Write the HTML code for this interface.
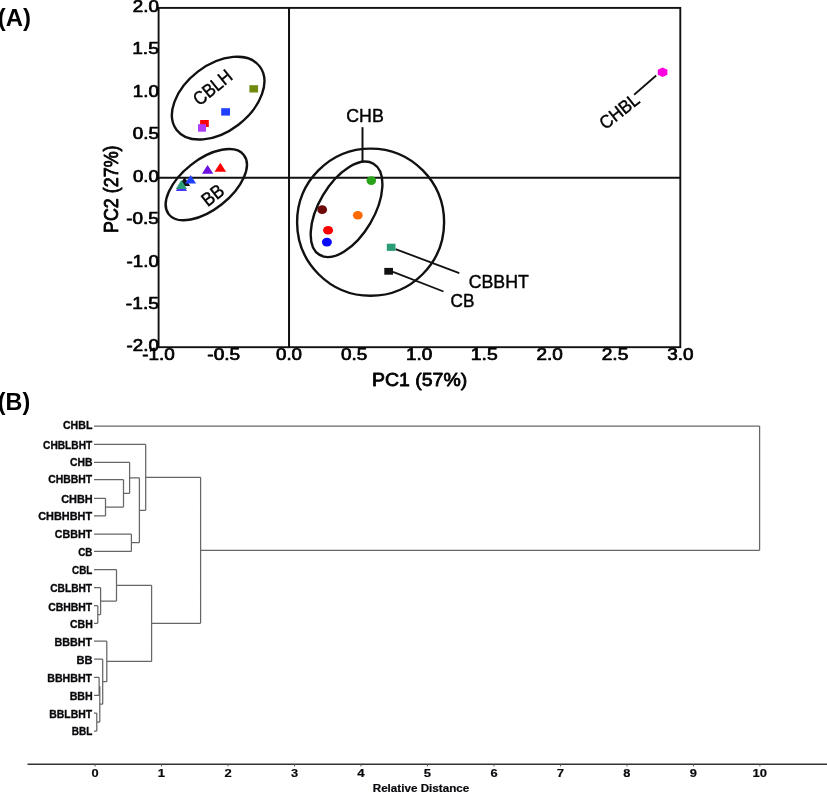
<!DOCTYPE html>
<html><head><meta charset="utf-8"><title>PCA and dendrogram</title>
<style>
html,body{margin:0;padding:0;background:#fff;overflow:hidden;}
svg{display:block;}
text{font-family:"Liberation Sans",Arial,sans-serif;fill:#000;}
.dl{fill:#08080c;}
</style></head>
<body><svg width="827" height="793" viewBox="0 0 827 793">
<rect x="0" y="0" width="827" height="793" fill="#fff"/>
<text font-weight="bold" font-size="24.34" transform="translate(-2.20,26.45) scale(0.9827,1)">(A)</text>
<rect x="158.6" y="7.9" width="521.70" height="339.30" fill="none" stroke="#111" stroke-width="1.9"/>
<line x1="289.02" y1="7.9" x2="289.02" y2="347.2" stroke="#111" stroke-width="2"/>
<line x1="158.6" y1="177.8" x2="680.3" y2="177.8" stroke="#111" stroke-width="2"/>
<text font-weight="normal" font-size="15.76" transform="translate(132.72,12.07) scale(1.1918,1)" stroke="#000" stroke-width="0.75" vector-effect="non-scaling-stroke" stroke-linejoin="round">2.0</text>
<text font-weight="normal" font-size="15.99" transform="translate(132.15,54.48) scale(1.2037,1)" stroke="#000" stroke-width="0.75" vector-effect="non-scaling-stroke" stroke-linejoin="round">1.5</text>
<text font-weight="normal" font-size="15.76" transform="translate(132.78,96.89) scale(1.1890,1)" stroke="#000" stroke-width="0.75" vector-effect="non-scaling-stroke" stroke-linejoin="round">1.0</text>
<text font-weight="normal" font-size="15.76" transform="translate(132.77,139.30) scale(1.1920,1)" stroke="#000" stroke-width="0.75" vector-effect="non-scaling-stroke" stroke-linejoin="round">0.5</text>
<text font-weight="normal" font-size="15.76" transform="translate(133.01,181.72) scale(1.1781,1)" stroke="#000" stroke-width="0.75" vector-effect="non-scaling-stroke" stroke-linejoin="round">0.0</text>
<text font-weight="normal" font-size="15.76" transform="translate(126.29,224.13) scale(1.2006,1)" stroke="#000" stroke-width="0.75" vector-effect="non-scaling-stroke" stroke-linejoin="round">-0.5</text>
<text font-weight="normal" font-size="15.76" transform="translate(126.54,266.54) scale(1.1895,1)" stroke="#000" stroke-width="0.75" vector-effect="non-scaling-stroke" stroke-linejoin="round">-1.0</text>
<text font-weight="normal" font-size="15.99" transform="translate(125.82,308.95) scale(1.2010,1)" stroke="#000" stroke-width="0.75" vector-effect="non-scaling-stroke" stroke-linejoin="round">-1.5</text>
<text font-weight="normal" font-size="15.76" transform="translate(126.54,351.37) scale(1.1895,1)" stroke="#000" stroke-width="0.75" vector-effect="non-scaling-stroke" stroke-linejoin="round">-2.0</text>
<text font-weight="normal" font-size="15.90" transform="translate(142.24,359.57) scale(1.1891,1)" stroke="#000" stroke-width="0.75" vector-effect="non-scaling-stroke" stroke-linejoin="round">-1.0</text>
<text font-weight="normal" font-size="15.90" transform="translate(207.33,359.57) scale(1.2002,1)" stroke="#000" stroke-width="0.75" vector-effect="non-scaling-stroke" stroke-linejoin="round">-0.5</text>
<text font-weight="normal" font-size="15.90" transform="translate(275.99,359.57) scale(1.1777,1)" stroke="#000" stroke-width="0.75" vector-effect="non-scaling-stroke" stroke-linejoin="round">0.0</text>
<text font-weight="normal" font-size="15.90" transform="translate(341.07,359.57) scale(1.1916,1)" stroke="#000" stroke-width="0.75" vector-effect="non-scaling-stroke" stroke-linejoin="round">0.5</text>
<text font-weight="normal" font-size="15.90" transform="translate(405.96,359.57) scale(1.1886,1)" stroke="#000" stroke-width="0.75" vector-effect="non-scaling-stroke" stroke-linejoin="round">1.0</text>
<text font-weight="normal" font-size="16.13" transform="translate(470.83,359.56) scale(1.2034,1)" stroke="#000" stroke-width="0.75" vector-effect="non-scaling-stroke" stroke-linejoin="round">1.5</text>
<text font-weight="normal" font-size="15.90" transform="translate(536.59,359.57) scale(1.1915,1)" stroke="#000" stroke-width="0.75" vector-effect="non-scaling-stroke" stroke-linejoin="round">2.0</text>
<text font-weight="normal" font-size="15.90" transform="translate(601.67,359.57) scale(1.2054,1)" stroke="#000" stroke-width="0.75" vector-effect="non-scaling-stroke" stroke-linejoin="round">2.5</text>
<text font-weight="normal" font-size="15.90" transform="translate(667.18,359.57) scale(1.1874,1)" stroke="#000" stroke-width="0.75" vector-effect="non-scaling-stroke" stroke-linejoin="round">3.0</text>
<text font-weight="normal" font-size="17.48" transform="translate(371.99,386.27) scale(1.1140,1)" stroke="#000" stroke-width="0.8" vector-effect="non-scaling-stroke" stroke-linejoin="round">PC1 (57%)</text>
<text font-weight="normal" font-size="20.27" transform="rotate(-90) translate(-232.98,118.19) scale(0.8828,1)" stroke="#000" stroke-width="0.8" vector-effect="non-scaling-stroke" stroke-linejoin="round">PC2 (27%)</text>
<ellipse cx="0" cy="0" rx="52.28" ry="33.41" transform="translate(218.16,98.15) rotate(-37.43)" fill="none" stroke="#111" stroke-width="2.4"/>
<ellipse cx="0" cy="0" rx="47.84" ry="25.0" transform="translate(206.3,184.66) rotate(-38.4)" fill="none" stroke="#111" stroke-width="2.4"/>
<ellipse cx="370.6" cy="222.2" rx="73.5" ry="73.6" fill="none" stroke="#111" stroke-width="2.4"/>
<ellipse cx="0" cy="0" rx="52.94" ry="27.5" transform="translate(346.55,209.3) rotate(-59.44)" fill="none" stroke="#111" stroke-width="2.4"/>
<line x1="362.5" y1="127.2" x2="362.5" y2="162" stroke="#111" stroke-width="2"/>
<line x1="395.5" y1="249.1" x2="459.3" y2="273.1" stroke="#111" stroke-width="1.8"/>
<line x1="393" y1="271.8" x2="443.5" y2="291.5" stroke="#111" stroke-width="1.8"/>
<line x1="656.2" y1="75.5" x2="634.1" y2="94.7" stroke="#111" stroke-width="1.8"/>
<text font-weight="normal" font-size="18.80" transform="translate(346.21,122.01) scale(0.9475,1)" stroke="#000" stroke-width="0.4" vector-effect="non-scaling-stroke" stroke-linejoin="round">CHB</text>
<text font-weight="normal" font-size="18.80" transform="translate(468.71,287.81) scale(0.9436,1)" stroke="#000" stroke-width="0.4" vector-effect="non-scaling-stroke" stroke-linejoin="round">CBBHT</text>
<text font-weight="normal" font-size="18.37" transform="translate(450.54,307.02) scale(0.9384,1)" stroke="#000" stroke-width="0.4" vector-effect="non-scaling-stroke" stroke-linejoin="round">CB</text>
<text font-weight="normal" font-size="18.94" transform="translate(216.5,92.7) rotate(-39) translate(-21.88,-0.09) scale(0.8769,1)" stroke="#000" stroke-width="0.4" vector-effect="non-scaling-stroke" stroke-linejoin="round">CBLH</text>
<text font-weight="normal" font-size="19.05" transform="translate(216.9,200.0) rotate(-38.3) translate(-11.72,0.10) scale(0.9009,1)" stroke="#000" stroke-width="0.4" vector-effect="non-scaling-stroke" stroke-linejoin="round">BB</text>
<text font-weight="normal" font-size="18.37" transform="translate(623.4,116.1) rotate(-38.7) translate(-22.75,-0.08) scale(0.9221,1)" stroke="#000" stroke-width="0.4" vector-effect="non-scaling-stroke" stroke-linejoin="round">CHBL</text>
<rect x="249.4" y="85.2" width="8.70" height="7.30" fill="#6f8a0c"/>
<rect x="221.2" y="108.2" width="8.80" height="7.40" fill="#2040ff"/>
<rect x="200.1" y="120.0" width="8.70" height="7.00" fill="#ff0000"/>
<rect x="198.0" y="124.2" width="8.00" height="7.50" fill="#b03cf8"/>
<polygon points="184.6,177.0 190.2,186.0 179.0,186.0" fill="#111"/>
<polygon points="181.4,182.0 187.0,190.9 175.8,190.9" fill="#4d33ff"/>
<polygon points="181.4,180.0 187.0,188.9 175.8,188.9" fill="#2a9d78"/>
<polygon points="190.6,175.1 196.1,183.6 185.1,183.6" fill="#2040ff"/>
<polygon points="207.6,165.0 213.29999999999998,173.7 201.9,173.7" fill="#6a0fe0"/>
<polygon points="220.3,162.8 226.10000000000002,171.7 214.5,171.7" fill="#ff0000"/>
<ellipse cx="371.3" cy="180.6" rx="4.8" ry="4.3" fill="#28a31a"/>
<ellipse cx="322.2" cy="209.7" rx="4.9" ry="4.4" fill="#6e0808"/>
<ellipse cx="357.8" cy="215.25" rx="4.9" ry="4.35" fill="#ff6a00"/>
<ellipse cx="328.1" cy="230.3" rx="5.0" ry="4.3" fill="#ff0000"/>
<ellipse cx="326.9" cy="242.1" rx="5.0" ry="4.35" fill="#0a0aff"/>
<rect x="386.8" y="243.7" width="8.70" height="7.20" fill="#2a9d78"/>
<rect x="384.3" y="267.9" width="8.70" height="6.80" fill="#111"/>
<polygon points="662.60,67.45 667.40,69.85 667.40,74.65 662.60,77.05 657.80,74.65 657.80,69.85" fill="#ff00e0"/>
<text font-weight="bold" font-size="24.34" transform="translate(-2.17,410.45) scale(0.9572,1)">(B)</text>
<text class="dl" font-weight="bold" font-size="10.86" transform="translate(62.94,428.83) scale(0.9758,1)" stroke="#08080c" stroke-width="0.32" vector-effect="non-scaling-stroke" stroke-linejoin="round">CHBL</text>
<text class="dl" font-weight="bold" font-size="10.86" transform="translate(43.05,448.53) scale(0.9377,1)" stroke="#08080c" stroke-width="0.32" vector-effect="non-scaling-stroke" stroke-linejoin="round">CHBLBHT</text>
<text class="dl" font-weight="bold" font-size="10.86" transform="translate(69.94,465.93) scale(0.9590,1)" stroke="#08080c" stroke-width="0.32" vector-effect="non-scaling-stroke" stroke-linejoin="round">CHB</text>
<text class="dl" font-weight="bold" font-size="10.43" transform="translate(48.14,483.04) scale(0.9996,1)" stroke="#08080c" stroke-width="0.32" vector-effect="non-scaling-stroke" stroke-linejoin="round">CHBBHT</text>
<text class="dl" font-weight="bold" font-size="11.00" transform="translate(61.22,502.63) scale(0.9929,1)" stroke="#08080c" stroke-width="0.32" vector-effect="non-scaling-stroke" stroke-linejoin="round">CHBH</text>
<text class="dl" font-weight="bold" font-size="10.86" transform="translate(38.22,519.73) scale(1.0051,1)" stroke="#08080c" stroke-width="0.32" vector-effect="non-scaling-stroke" stroke-linejoin="round">CHBHBHT</text>
<text class="dl" font-weight="bold" font-size="10.86" transform="translate(54.83,538.13) scale(0.9821,1)" stroke="#08080c" stroke-width="0.32" vector-effect="non-scaling-stroke" stroke-linejoin="round">CBBHT</text>
<text class="dl" font-weight="bold" font-size="10.57" transform="translate(78.27,555.53) scale(0.9306,1)" stroke="#08080c" stroke-width="0.32" vector-effect="non-scaling-stroke" stroke-linejoin="round">CB</text>
<text class="dl" font-weight="bold" font-size="10.43" transform="translate(72.07,573.74) scale(0.9456,1)" stroke="#08080c" stroke-width="0.32" vector-effect="non-scaling-stroke" stroke-linejoin="round">CBL</text>
<text class="dl" font-weight="bold" font-size="10.86" transform="translate(50.15,592.23) scale(0.9412,1)" stroke="#08080c" stroke-width="0.32" vector-effect="non-scaling-stroke" stroke-linejoin="round">CBLBHT</text>
<text class="dl" font-weight="bold" font-size="10.71" transform="translate(48.14,610.93) scale(0.9755,1)" stroke="#08080c" stroke-width="0.32" vector-effect="non-scaling-stroke" stroke-linejoin="round">CBHBHT</text>
<text class="dl" font-weight="bold" font-size="10.43" transform="translate(69.94,627.74) scale(1.0089,1)" stroke="#08080c" stroke-width="0.32" vector-effect="non-scaling-stroke" stroke-linejoin="round">CBH</text>
<text class="dl" font-weight="bold" font-size="11.03" transform="translate(54.53,645.84) scale(0.9747,1)" stroke="#08080c" stroke-width="0.32" vector-effect="non-scaling-stroke" stroke-linejoin="round">BBBHT</text>
<text class="dl" font-weight="bold" font-size="10.73" transform="translate(76.41,663.54) scale(1.0403,1)" stroke="#08080c" stroke-width="0.32" vector-effect="non-scaling-stroke" stroke-linejoin="round">BB</text>
<text class="dl" font-weight="bold" font-size="11.17" transform="translate(47.24,682.04) scale(0.9526,1)" stroke="#08080c" stroke-width="0.32" vector-effect="non-scaling-stroke" stroke-linejoin="round">BBHBHT</text>
<text class="dl" font-weight="bold" font-size="10.88" transform="translate(69.64,699.64) scale(0.9804,1)" stroke="#08080c" stroke-width="0.32" vector-effect="non-scaling-stroke" stroke-linejoin="round">BBH</text>
<text class="dl" font-weight="bold" font-size="11.03" transform="translate(49.26,717.54) scale(0.9465,1)" stroke="#08080c" stroke-width="0.32" vector-effect="non-scaling-stroke" stroke-linejoin="round">BBLBHT</text>
<text class="dl" font-weight="bold" font-size="10.88" transform="translate(71.78,735.04) scale(0.9194,1)" stroke="#08080c" stroke-width="0.32" vector-effect="non-scaling-stroke" stroke-linejoin="round">BBL</text>
<path d="M94.0,498.30H105.5 M94.0,515.90H105.5 M105.5,498.30V515.90 M105.5,507.10H123.5 M94.0,479.70H123.5 M123.5,479.70V507.10 M123.5,493.40H129.6 M94.0,462.30H129.6 M129.6,462.30V493.40 M94.0,534.00H131.4 M94.0,551.40H131.4 M131.4,534.00V551.40 M129.6,477.85H139.4 M131.4,542.70H139.4 M139.4,477.85V542.70 M139.4,510.28H145.7 M94.0,444.40H145.7 M145.7,444.40V510.28 M94.0,605.70H97.8 M94.0,623.30H97.8 M97.8,605.70V623.30 M97.8,614.50H100.6 M94.0,587.50H100.6 M100.6,587.50V614.50 M100.6,601.00H116.5 M94.0,569.50H116.5 M116.5,569.50V601.00 M94.0,713.10H96.8 M94.0,731.00H96.8 M96.8,713.10V731.00 M94.0,677.30H99.1 M94.0,695.30H99.1 M99.1,677.30V695.30 M96.8,722.05H99.8 M99.1,686.30H99.8 M99.8,686.30V722.05 M99.8,704.17H102.7 M94.0,659.20H102.7 M102.7,659.20V704.17 M102.7,681.69H106.8 M94.0,641.20H106.8 M106.8,641.20V681.69 M116.5,585.25H151.6 M106.8,661.44H151.6 M151.6,585.25V661.44 M145.7,477.34H200.6 M151.6,623.35H200.6 M200.6,477.34V623.35 M200.6,550.34H759.6 M94.0,426.10H759.6 M759.6,426.10V550.34" fill="none" stroke="#666" stroke-width="1.25"/>
<line x1="27.5" y1="764.2" x2="827" y2="764.2" stroke="#333" stroke-width="1.5"/>
<line x1="95.10" y1="764.2" x2="95.10" y2="766.4" stroke="#555" stroke-width="1"/>
<text class="dl" font-weight="bold" font-size="10.74" transform="translate(91.55,776.59) scale(1.1924,1)" stroke="#08080c" stroke-width="0.2" vector-effect="non-scaling-stroke" stroke-linejoin="round">0</text>
<line x1="161.58" y1="764.2" x2="161.58" y2="766.4" stroke="#555" stroke-width="1"/>
<text class="dl" font-weight="bold" font-size="11.05" transform="translate(157.69,776.70) scale(1.1927,1)" stroke="#08080c" stroke-width="0.2" vector-effect="non-scaling-stroke" stroke-linejoin="round">1</text>
<line x1="228.06" y1="764.2" x2="228.06" y2="766.4" stroke="#555" stroke-width="1"/>
<text class="dl" font-weight="bold" font-size="10.90" transform="translate(224.48,776.70) scale(1.1933,1)" stroke="#08080c" stroke-width="0.2" vector-effect="non-scaling-stroke" stroke-linejoin="round">2</text>
<line x1="294.54" y1="764.2" x2="294.54" y2="766.4" stroke="#555" stroke-width="1"/>
<text class="dl" font-weight="bold" font-size="10.70" transform="translate(291.07,776.57) scale(1.1940,1)" stroke="#08080c" stroke-width="0.2" vector-effect="non-scaling-stroke" stroke-linejoin="round">3</text>
<line x1="361.02" y1="764.2" x2="361.02" y2="766.4" stroke="#555" stroke-width="1"/>
<text class="dl" font-weight="bold" font-size="11.05" transform="translate(357.28,776.70) scale(1.1978,1)" stroke="#08080c" stroke-width="0.2" vector-effect="non-scaling-stroke" stroke-linejoin="round">4</text>
<line x1="427.50" y1="764.2" x2="427.50" y2="766.4" stroke="#555" stroke-width="1"/>
<text class="dl" font-weight="bold" font-size="10.90" transform="translate(423.87,776.59) scale(1.1947,1)" stroke="#08080c" stroke-width="0.2" vector-effect="non-scaling-stroke" stroke-linejoin="round">5</text>
<line x1="493.98" y1="764.2" x2="493.98" y2="766.4" stroke="#555" stroke-width="1"/>
<text class="dl" font-weight="bold" font-size="10.74" transform="translate(490.41,776.59) scale(1.1930,1)" stroke="#08080c" stroke-width="0.2" vector-effect="non-scaling-stroke" stroke-linejoin="round">6</text>
<line x1="560.46" y1="764.2" x2="560.46" y2="766.4" stroke="#555" stroke-width="1"/>
<text class="dl" font-weight="bold" font-size="11.05" transform="translate(556.80,776.70) scale(1.1931,1)" stroke="#08080c" stroke-width="0.2" vector-effect="non-scaling-stroke" stroke-linejoin="round">7</text>
<line x1="626.94" y1="764.2" x2="626.94" y2="766.4" stroke="#555" stroke-width="1"/>
<text class="dl" font-weight="bold" font-size="10.74" transform="translate(623.37,776.59) scale(1.1938,1)" stroke="#08080c" stroke-width="0.2" vector-effect="non-scaling-stroke" stroke-linejoin="round">8</text>
<line x1="693.42" y1="764.2" x2="693.42" y2="766.4" stroke="#555" stroke-width="1"/>
<text class="dl" font-weight="bold" font-size="10.74" transform="translate(689.86,776.59) scale(1.1932,1)" stroke="#08080c" stroke-width="0.2" vector-effect="non-scaling-stroke" stroke-linejoin="round">9</text>
<line x1="759.90" y1="764.2" x2="759.90" y2="766.4" stroke="#555" stroke-width="1"/>
<text class="dl" font-weight="bold" font-size="10.74" transform="translate(752.52,776.59) scale(1.2131,1)" stroke="#08080c" stroke-width="0.2" vector-effect="non-scaling-stroke" stroke-linejoin="round">10</text>
<text class="dl" font-weight="bold" font-size="10.34" transform="translate(372.71,792.20) scale(1.1291,1)" stroke="#08080c" stroke-width="0.2" vector-effect="non-scaling-stroke" stroke-linejoin="round">Relative Distance</text>
</svg></body></html>
